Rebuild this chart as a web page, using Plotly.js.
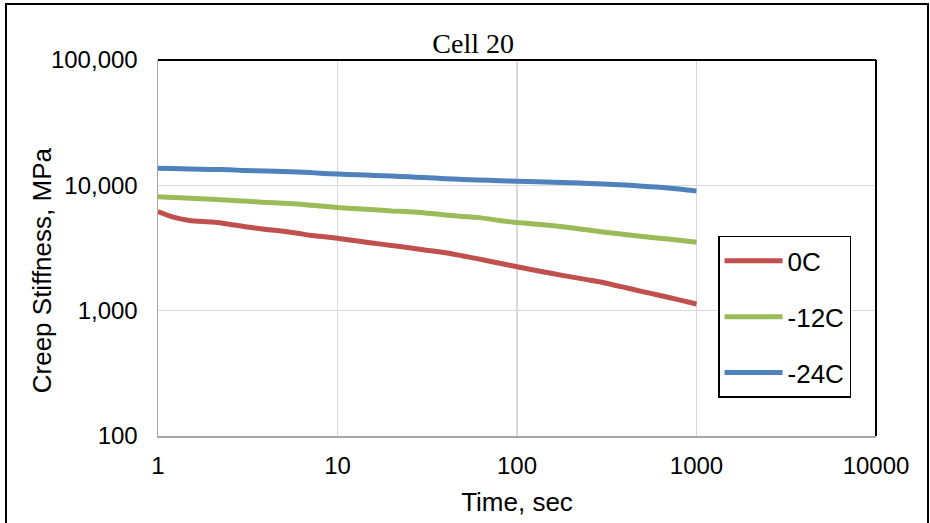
<!DOCTYPE html>
<html>
<head>
<meta charset="utf-8">
<script src="https://cdn.plot.ly/plotly-3.0.1.min.js"></script>
<style>
  html, body { margin: 0; padding: 0; background: #fff; }
  #wrap { position: relative; width: 930px; height: 523px; overflow: hidden; }
  #chart { width: 930px; height: 523px; }
  #frame { position: absolute; left: 5px; top: 3px; width: 924px; height: 540px;
           border: 2px solid #000; pointer-events: none; box-sizing: border-box; }
</style>
</head>
<body>
<div id="wrap">
  <div id="chart"></div>
  <div id="frame"></div>
</div>
<script>
const time = [1, 1.2, 1.5, 2, 2.5, 3, 4, 5, 6, 7, 8, 10, 13, 16, 20, 25, 30, 40, 50, 60, 80,
              100, 130, 160, 200, 250, 300, 400, 500, 600, 800, 1000];
const stiff0C = [6170, 5600, 5250, 5100, 4900, 4700, 4450, 4300, 4150, 4000, 3920, 3780, 3590, 3450,
                 3310, 3180, 3060, 2900, 2730, 2600, 2390, 2240, 2080, 1970, 1860, 1760, 1680, 1530,
                 1420, 1340, 1220, 1130];
const stiffM12C = [8100, 8000, 7900, 7750, 7600, 7500, 7300, 7200, 7100, 6950, 6850, 6650, 6500, 6400,
                   6250, 6150, 6050, 5800, 5650, 5550, 5250, 5050, 4900, 4750, 4580, 4400, 4250, 4050,
                   3900, 3800, 3650, 3510];
const stiffM24C = [13700, 13600, 13500, 13400, 13300, 13150, 13000, 12900, 12800, 12650, 12500, 12300,
                   12150, 12000, 11850, 11700, 11550, 11300, 11150, 11050, 10900, 10800, 10700, 10600,
                   10500, 10350, 10250, 10050, 9850, 9700, 9350, 9000];
const seriesNames = ['0C', '-12C', '-24C'];
const seriesColors = ['#C0504D', '#9BBB59', '#4F81BD'];
const xTickVals = [1, 10, 100, 1000, 10000];
const xTickText = ['1', '10', '100', '1000', '10000'];
const yTickVals = [100, 1000, 10000, 100000];
const yTickText = ['100', '1,000', '10,000', '100,000'];

const seriesData = [stiff0C, stiffM12C, stiffM24C];
const traces = seriesData.map((vals, i) => ({
  x: time, y: vals, type: 'scatter', mode: 'lines', name: seriesNames[i],
  legendgroup: 'g' + i,
  line: { color: seriesColors[i], width: 5, shape: 'spline', smoothing: 0.6 }
}));

const layout = {
  width: 930, height: 523,
  margin: { l: 158, r: 54, t: 60, b: 87 },
  paper_bgcolor: '#fff', plot_bgcolor: '#fff',
  font: { family: 'Liberation Sans, Arial, sans-serif', color: '#000' },
  title: { text: 'Cell 20', font: { family: 'Liberation Serif, Times New Roman, serif', size: 28, color: '#000' },
           xref: 'paper', x: 0.439, xanchor: 'center', yref: 'container', y: 0.918, yanchor: 'middle' },
  xaxis: {
    type: 'log', range: [0, 4], tickvals: xTickVals, ticktext: xTickText,
    tickfont: { size: 24 }, ticks: '', ticklabelstandoff: 8,
    showgrid: true, gridcolor: '#D9D9D9', gridwidth: 1.3,
    showline: true, linecolor: '#A6A6A6', linewidth: 1.5, zeroline: false,
    title: { text: 'Time, sec', font: { size: 26 }, standoff: 14 }
  },
  yaxis: {
    type: 'log', range: [2, 5], tickvals: yTickVals, ticktext: yTickText,
    tickfont: { size: 24 }, ticks: '', ticklabelstandoff: 14,
    showgrid: true, gridcolor: '#D9D9D9', gridwidth: 1.3,
    showline: true, linecolor: '#A6A6A6', linewidth: 1.5, zeroline: false
  },
  annotations: [{
    text: 'Creep Stiffness, MPa', textangle: -90, showarrow: false,
    xref: 'paper', yref: 'paper', x: -0.162, y: 0.44, xanchor: 'center', yanchor: 'middle',
    font: { size: 26, color: '#000' }
  }],
  shapes: [
    { type: 'line', xref: 'paper', yref: 'paper', x0: 0, x1: 1, y0: 1, y1: 1, line: { color: '#000', width: 2 } },
    { type: 'line', xref: 'paper', yref: 'paper', x0: 1, x1: 1, y0: 0, y1: 1, line: { color: '#000', width: 2 } }
  ],
  legend: {
    x: 0.78, y: 0.532, xanchor: 'left', yanchor: 'top',
    bgcolor: '#fff', bordercolor: '#000', borderwidth: 1.5,
    font: { size: 26, color: '#000' }, traceorder: 'grouped', tracegroupgap: 19,
    itemwidth: 58
  },
  showlegend: true
};

Plotly.newPlot('chart', traces, layout, { displayModeBar: false, staticPlot: true });
</script>
</body>
</html>
